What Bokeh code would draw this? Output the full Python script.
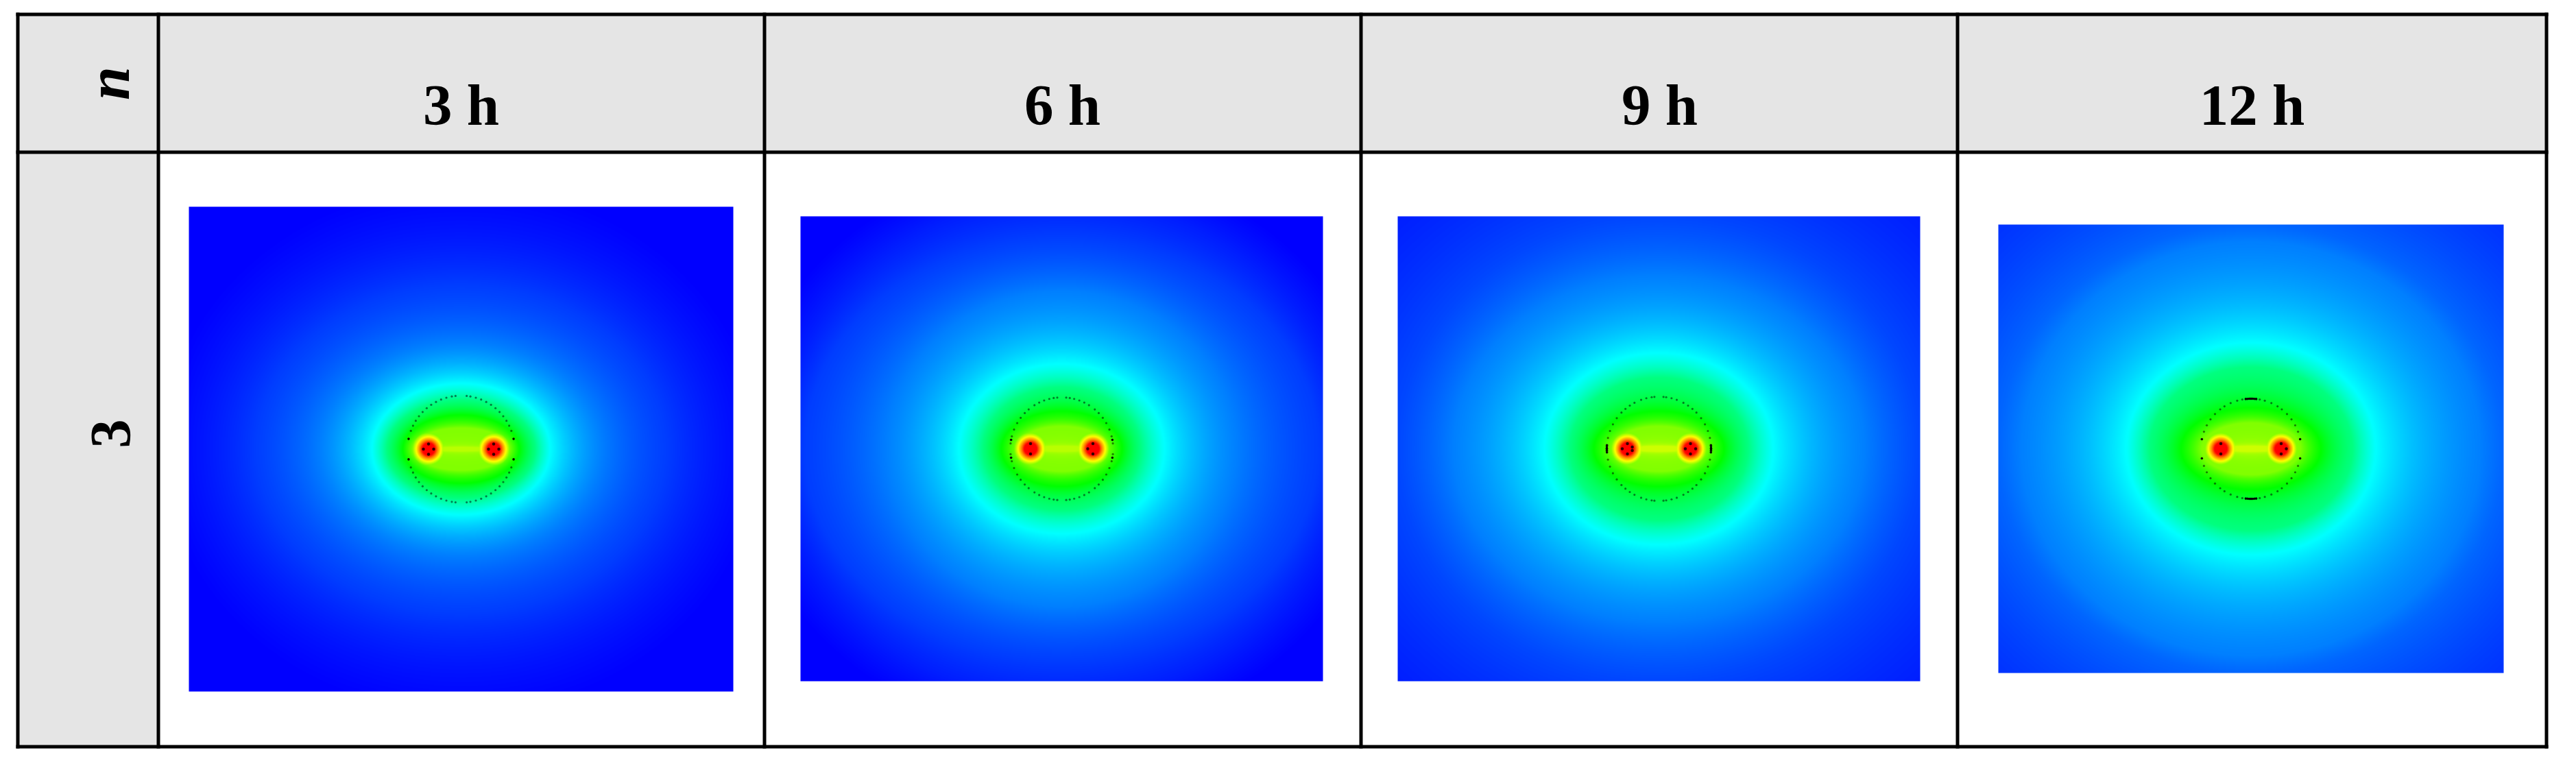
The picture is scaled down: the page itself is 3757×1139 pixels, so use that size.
from bokeh.plotting import figure
from bokeh.models import Range1d, LinearColorMapper
from bokeh.core.properties import value
from bokeh.embed import file_html
from bokeh.resources import INLINE
import numpy as np

# Table text
hours = ["3 h", "6 h", "9 h", "12 h"]
row_label = "3"
corner_label = "n"

# The heat maps are estimates: contour sizes read by eye from the picture, not source data.
# level: 0 blue, .25 cyan, .5 green, .75 yellow, 1 red. Each contour has half-width rx, half-height ry.
p1_levels = [0, .02, .06, .125, .25, .375, .5, .625, .68]
p1_rx = [440, 380, 300, 205, 130, 108, 85, 70, 50]
p1_ry = [390, 320, 240, 155, 96, 72, 50, 31, 3]

p2_levels = [0, .03, .06, .125, .25, .375, .5, .625, .68]
p2_rx = [470, 410, 375, 255, 150, 115, 88, 66, 40]
p2_ry = [420, 365, 310, 230, 124, 90, 55, 33, 4]

p3_levels = [0, .03, .07, .125, .25, .375, .5, .625, .7]
p3_rx = [800, 539, 381, 300, 167, 130, 95, 68, 40]
p3_ry = [700, 479, 339, 253, 140, 104, 55, 33, 4]

p4_levels = [0, .05, .1, .125, .25, .375, .5, .625, .7]
p4_rx = [900, 520, 368, 335, 182, 148, 102, 72, 42]
p4_ry = [800, 462, 327, 302, 155, 119, 60, 38, 4]

# Hot spots: radius against level
spot_r = [0, 9, 13, 18, 24]
spot_level = [1.0, 1.0, .875, .75, .6]

# Ring marks, degrees in the first quadrant (mirrored to the other three)
p1_ring_faint = [20, 26, 32, 38, 44, 50, 56, 62, 68, 74, 80, 84]
p1_ring_dark = [11]
p2_ring_faint = [6, 14, 22, 30, 37, 44, 50, 58, 64, 70, 76, 81, 85]
p2_ring_dark = [10]
p3_ring_faint = [12, 20, 28, 36, 44, 50, 56, 62, 70, 76, 82, 85]
p3_ring_dark = [0, 2, 4]
p4_ring_faint = [20, 28, 36, 44, 52, 58, 66, 74, 80]
p4_ring_dark = [11, 84, 86, 88, 90]

# Dots around each hot spot: angle in degrees, left spot then right spot
p1_spot_dots = ([90, 180, 270, 0], [90, 180, 270, 0])
p2_spot_dots = ([90, 270], [90, 270, 180])
p3_spot_dots = ([90, 180, 270, 20, 340], [90, 270, 180, 0])
p4_spot_dots = ([90, 270], [90, 270, 0])

# Layout in page pixels
W, H = 3741, 1123
M = 8
panels = [
    dict(box=(283, 309, 1077, 1016), cx=680, cy=662.5, ring=78, sep=47.5,
         lv=p1_levels, rx=p1_rx, ry=p1_ry, faint=p1_ring_faint, dark=p1_ring_dark, dots=p1_spot_dots),
    dict(box=(1175, 323, 1937, 1001), cx=1556, cy=662, ring=75, sep=45.5,
         lv=p2_levels, rx=p2_rx, ry=p2_ry, faint=p2_ring_faint, dark=p2_ring_dark, dots=p2_spot_dots),
    dict(box=(2046, 323, 2808, 1001), cx=2427, cy=662, ring=76, sep=46,
         lv=p3_levels, rx=p3_rx, ry=p3_ry, faint=p3_ring_faint, dark=p3_ring_dark, dots=p3_spot_dots),
    dict(box=(2922, 335, 3659, 989), cx=3290.5, cy=662, ring=73, sep=44,
         lv=p4_levels, rx=p4_rx, ry=p4_ry, faint=p4_ring_faint, dark=p4_ring_dark, dots=p4_spot_dots),
]
v_lines = [(31, 36), (236, 241), (1120, 1125), (1990, 1995), (2860, 2865), (3719, 3724)]
h_lines = [(26, 31), (227, 232), (1094, 1099)]
L, R, T, B = 31, 3724, 26, 1099
col_centers = [680, 1557, 2428, 3292]
GREY = "#e5e5e5"

# Palette: blue, cyan, green, yellow, red
stops = np.array([[0, 0, 255], [0, 255, 255], [0, 255, 0], [255, 255, 0], [255, 0, 0]], float)
pos = np.linspace(0, 1, 5)
tt = np.linspace(0, 1, 512)
palette = ["#%02x%02x%02x" % tuple(int(round(np.interp(t, pos, stops[:, c]))) for c in range(3)) for t in tt]
mapper = LinearColorMapper(palette=palette, low=0, high=1)

p = figure(width=W, height=H, output_backend="svg", toolbar_location=None,
           x_range=Range1d(M, M + W), y_range=Range1d(-(M + H), -M),
           min_border=0, outline_line_color=None, background_fill_color="white")
p.axis.visible = False
p.grid.visible = False


def field(pn):
    x0, y0, x1, y1 = pn["box"]
    xs, ys = np.meshgrid(np.arange(x0, x1) + .5, np.arange(y0, y1) + .5)
    dx, dy = xs - pn["cx"], ys - pn["cy"]
    lv, rx, ry = pn["lv"], pn["rx"], pn["ry"]
    es = [np.sqrt((dx / a) ** 2 + (dy / b) ** 2) for a, b in zip(rx, ry)]
    out = np.full(dx.shape, float(lv[0]))
    for k in range(len(lv) - 1):
        m = (es[k] <= 1) & (es[k + 1] > 1)
        t = (1 - es[k][m]) / (es[k + 1][m] - es[k][m])
        out[m] = lv[k] + (lv[k + 1] - lv[k]) * t
    out[es[-1] <= 1] = lv[-1]
    for sx in (-pn["sep"], pn["sep"]):
        r = np.hypot(dx - sx, dy)
        s = np.interp(r, spot_r, spot_level, right=0)
        out = np.maximum(out, s)
    return out[::-1]


# Grey header fills
p.quad(left=[L, L], right=[R, 238], top=[-T, -232], bottom=[-229, -B], fill_color=GREY, line_color=None)

for pn in panels:
    x0, y0, x1, y1 = pn["box"]
    p.image(image=[field(pn)], x=x0, y=-y1, dw=x1 - x0, dh=y1 - y0, color_mapper=mapper)
    for pts, size, alpha in ((pn["faint"], 3.2, .5), (pn["dark"], 3.6, .95)):
        a = np.radians(np.array(pts, float))
        xs, ys = [], []
        for sgx in (-1, 1):
            for sgy in (-1, 1):
                xs += list(pn["cx"] + sgx * pn["ring"] * np.cos(a))
                ys += list(-(pn["cy"] + sgy * pn["ring"] * np.sin(a)))
        p.scatter(xs, ys, size=size, color="black", alpha=alpha, line_color=None)
    for sx, ang in zip((-pn["sep"], pn["sep"]), pn["dots"]):
        a = np.radians(np.array(ang, float))
        p.scatter(pn["cx"] + sx + 7.5 * np.cos(a), -pn["cy"] + 7.5 * np.sin(a), size=4.5,
                  color="#200000", alpha=.9, line_color=None)

# Rules
p.quad(left=[a for a, b in v_lines], right=[b for a, b in v_lines], top=[-T] * len(v_lines), bottom=[-B] * len(v_lines),
       fill_color="black", line_color=None)
p.quad(left=[L] * len(h_lines), right=[R] * len(h_lines), top=[-a for a, b in h_lines], bottom=[-b for a, b in h_lines],
       fill_color="black", line_color=None)

font = value("Liberation Serif")
p.text(x=col_centers, y=[-160] * 4, text=hours, text_font=font, text_font_size="85px", text_font_style="bold",
       text_align="center", text_baseline="alphabetic", text_color="black")
p.text(x=[166], y=[-129], text=[corner_label], text_font=font, text_font_size="88px", text_font_style="bold italic",
       angle=np.pi / 2, text_align="center", text_baseline="alphabetic", text_color="black")
p.text(x=[169], y=[-640], text=[row_label], text_font=font, text_font_size="85px", text_font_style="bold",
       angle=np.pi / 2, text_align="center", text_baseline="alphabetic", text_color="black")

open("out.html", "w").write(file_html(p, INLINE))
